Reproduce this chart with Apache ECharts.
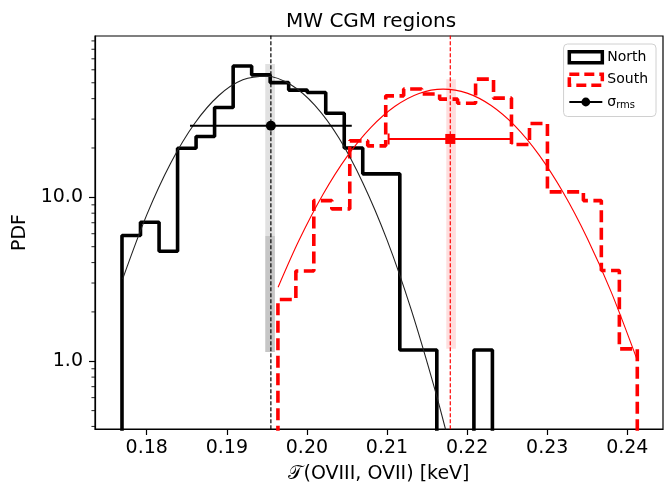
<!DOCTYPE html>
<html>
<head>
<meta charset="utf-8">
<script src="https://cdn.jsdelivr.net/npm/echarts@6/dist/echarts.min.js"></script>
<style>
html, body { margin: 0; padding: 0; background: #fff; }
#chart { width: 665px; height: 490px; }
</style>
</head>
<body>
<div id="chart"></div>
<script>
// histogram bin edges and pdf heights
var northEdges = [0.17691, 0.17922, 0.18154, 0.18385, 0.18616, 0.18847, 0.19079, 0.1931, 0.19541, 0.19772,
  0.20004, 0.20235, 0.20466, 0.20697, 0.20929, 0.2116, 0.21391, 0.21622, 0.21854, 0.22085, 0.22316];
var northPdf = [5.85, 7.05, 4.69, 19.9, 23.5, 35.3, 63.2, 55.8, 50.1, 45.1,
  43.6, 32.6, 20.0, 13.9, 13.9, 1.17, 1.17, 0, 0, 1.17];

var southEdges = [0.19638, 0.19862, 0.20086, 0.20311, 0.20535, 0.20759, 0.20984, 0.21208, 0.21433, 0.21657,
  0.21881, 0.22106, 0.2233, 0.22554, 0.22779, 0.23003, 0.23227, 0.23452, 0.23676, 0.23901, 0.24125];
var southPdf = [2.38, 3.55, 9.55, 8.5, 22.1, 20.6, 41.6, 45.8, 42.7, 39.7,
  37.5, 52.6, 40.3, 21.0, 28.2, 10.8, 10.8, 9.55, 3.58, 1.19];

// gaussian fit curves
var northFitX = [0.177, 0.18, 0.183, 0.186, 0.189, 0.192, 0.195, 0.198, 0.201, 0.204, 0.207, 0.21, 0.213, 0.216, 0.218];
var northFitY = [3.18, 7.81, 16.2, 28.3, 41.8, 52.1, 54.8, 48.6, 36.4, 23.0, 12.2, 5.50, 2.08, 0.667, 0.284];
var southFitX = [0.1964, 0.199, 0.202, 0.205, 0.208, 0.211, 0.214, 0.217, 0.22, 0.223, 0.226, 0.229, 0.232, 0.235, 0.238, 0.2412];
var southFitY = [2.83, 5.45, 10.4, 17.7, 26.7, 35.9, 43.0, 45.7, 43.2, 36.3, 27.2, 18.1, 10.7, 5.63, 2.64, 1.03];

// mean, sigma_rms and height of the error bars
var northMean = 0.1955, northSigma = 0.0101, northBarY = 27.3;
var southMean = 0.2179, southSigma = 0.0077, southBarY = 22.7;

// shaded bands around the means: [x0, x1, y0, y1]
var northBand = [0.1948, 0.1960, 1.14, 65];
var northBandLow = [0.1948, 0.1960, 1.14, 5.8];
var southBand = [0.2174, 0.2186, 1.19, 52.6];

var xMin = 0.17354, xMax = 0.24446;
var yMin = 0.386, yMax = 96.4;
var yMinorTicks = [0.4, 0.5, 0.6, 0.7, 0.8, 0.9, 2, 3, 4, 5, 6, 7, 8, 9, 20, 30, 40, 50, 60, 70, 80, 90];

var FONT = 'DejaVu Sans';
var chart = echarts.init(document.getElementById('chart'));

// turn bin edges + heights into a step path that drops to the bottom at both ends
function stepData(edges, vals) {
  var floor = 0.1;
  var d = [[edges[0], floor]];
  for (var i = 0; i < vals.length; i++) {
    d.push([edges[i], vals[i] > 0 ? vals[i] : floor]);
  }
  var last = vals[vals.length - 1];
  d.push([edges[edges.length - 1], last > 0 ? last : floor]);
  d.push([edges[edges.length - 1], floor]);
  return d;
}

function zip(xs, ys) {
  return xs.map(function (x, i) { return [x, ys[i]]; });
}

function band(b, color) {
  return [{ xAxis: b[0], yAxis: b[2], itemStyle: { color: color } }, { xAxis: b[1], yAxis: b[3] }];
}

// full-height dashed vertical line through the mean
function vline(name, x, color) {
  return {
    name: name,
    type: 'line',
    data: [[x, 0.1], [x, 1000]],
    showSymbol: false,
    silent: true,
    lineStyle: { color: color, width: 1.2, type: [4, 2] },
    z: 4
  };
}

chart.setOption({
  animation: false,
  title: {
    text: 'MW CGM regions',
    left: 281,
    top: 7,
    textStyle: { fontFamily: FONT, fontSize: 20, fontWeight: 'normal', color: '#000' }
  },
  legend: {
    orient: 'vertical',
    right: 9,
    top: 44,
    padding: [6, 8, 6, 4],
    itemGap: 8,
    itemWidth: 33,
    itemHeight: 11,
    backgroundColor: '#fff',
    borderColor: '#d0d0d0',
    borderWidth: 1,
    borderRadius: 4,
    data: [
      { name: 'North', icon: 'rect', itemStyle: { color: '#fff', borderColor: '#000', borderWidth: 3.5 } },
      { name: 'South', icon: 'rect', itemStyle: { color: '#fff', borderColor: '#ff0000', borderWidth: 3.5, borderType: [10, 5] } },
      { name: 'σ_rms' }
    ],
    formatter: function (name) {
      return name === 'σ_rms' ? '{s|σ}{sub|rms}' : name;
    },
    textStyle: {
      fontFamily: FONT, fontSize: 14, color: '#000',
      rich: {
        s: { fontFamily: FONT, fontSize: 14, color: '#000' },
        sub: { fontFamily: FONT, fontSize: 10, color: '#000', padding: [7, 0, 0, 0] }
      }
    }
  },
  grid: {
    left: 95, right: 2, top: 36, bottom: 61,
    show: true, borderColor: '#000', borderWidth: 1.2, backgroundColor: 'transparent'
  },
  xAxis: {
    type: 'value',
    min: xMin, max: xMax,
    splitNumber: 7,
    name: '𝒯(OVIII, OVII) [keV]',
    nameLocation: 'middle',
    nameGap: 36,
    nameTextStyle: { fontFamily: FONT, fontSize: 19, color: '#000' },
    axisLine: { show: true, lineStyle: { color: '#000', width: 1.2 } },
    axisTick: { show: true, inside: false, length: 6, lineStyle: { color: '#000', width: 1.2 } },
    axisLabel: {
      fontFamily: FONT, fontSize: 19, color: '#000', margin: 10,
      showMinLabel: false, showMaxLabel: false,
      formatter: function (v) { return v.toFixed(2); }
    },
    splitLine: { show: false }
  },
  yAxis: {
    type: 'log',
    logBase: 10,
    min: yMin, max: yMax,
    name: 'PDF',
    nameLocation: 'middle',
    nameGap: 62,
    nameTextStyle: { fontFamily: FONT, fontSize: 19, color: '#000' },
    axisLine: { show: true, lineStyle: { color: '#000', width: 1.2 } },
    axisTick: { show: true, inside: false, length: 6, lineStyle: { color: '#000', width: 1.2 } },
    axisLabel: {
      fontFamily: FONT, fontSize: 19, color: '#000', margin: 12,
      showMinLabel: false, showMaxLabel: false,
      formatter: function (v) { return v.toFixed(1); }
    },
    splitLine: { show: false }
  },
  series: [
    {
      name: 'North',
      type: 'line',
      step: 'end',
      data: stepData(northEdges, northPdf),
      showSymbol: false,
      color: '#000',
      lineStyle: { color: '#000', width: 3.6 },
      z: 3,
      markArea: {
        silent: true,
        data: [band(northBand, 'rgba(120,120,120,0.22)'), band(northBandLow, 'rgba(120,120,120,0.25)')]
      }
    },
    {
      name: 'South',
      type: 'line',
      step: 'end',
      data: stepData(southEdges, southPdf),
      showSymbol: false,
      color: '#ff0000',
      lineStyle: { color: '#ff0000', width: 3.6, type: [12, 5.5] },
      z: 3,
      markArea: {
        silent: true,
        data: [band(southBand, 'rgba(255,0,0,0.13)')]
      }
    },
    {
      name: 'northFit',
      type: 'line',
      smooth: 0.3,
      data: zip(northFitX, northFitY),
      showSymbol: false,
      lineStyle: { color: '#222', width: 1.1 },
      z: 4
    },
    {
      name: 'southFit',
      type: 'line',
      smooth: 0.3,
      data: zip(southFitX, southFitY),
      showSymbol: false,
      lineStyle: { color: '#ff0000', width: 1.1 },
      z: 4
    },
    vline('northMeanLine', northMean, '#000'),
    vline('southMeanLine', southMean, '#ff0000'),
    {
      name: 'σ_rms',
      type: 'line',
      color: '#000',
      symbol: 'circle',
      symbolSize: 10,
      showAllSymbol: true,
      data: [
        { value: [northMean - northSigma, northBarY], symbol: 'none' },
        { value: [northMean, northBarY], symbol: 'circle', symbolSize: 10 },
        { value: [northMean + northSigma, northBarY], symbol: 'none' }
      ],
      lineStyle: { color: '#000', width: 2 },
      itemStyle: { color: '#000' },
      z: 5
    },
    {
      name: 'southErr',
      type: 'line',
      color: '#ff0000',
      showAllSymbol: true,
      data: [
        { value: [southMean - southSigma, southBarY], symbol: 'rect', symbolSize: [2, 11] },
        { value: [southMean, southBarY], symbol: 'rect', symbolSize: [10, 10] },
        { value: [southMean + southSigma, southBarY], symbol: 'rect', symbolSize: [2, 11] }
      ],
      lineStyle: { color: '#ff0000', width: 2 },
      itemStyle: { color: '#ff0000' },
      z: 5
    },
    {
      // minor ticks of the log axis
      name: 'minorTicks',
      type: 'scatter',
      data: yMinorTicks.map(function (v) { return [xMin, v]; }),
      symbol: 'rect',
      symbolSize: [3.5, 1.1],
      symbolOffset: [-1.8, 0],
      itemStyle: { color: '#000' },
      clip: false,
      silent: true,
      z: 6
    }
  ]
});
</script>
</body>
</html>
